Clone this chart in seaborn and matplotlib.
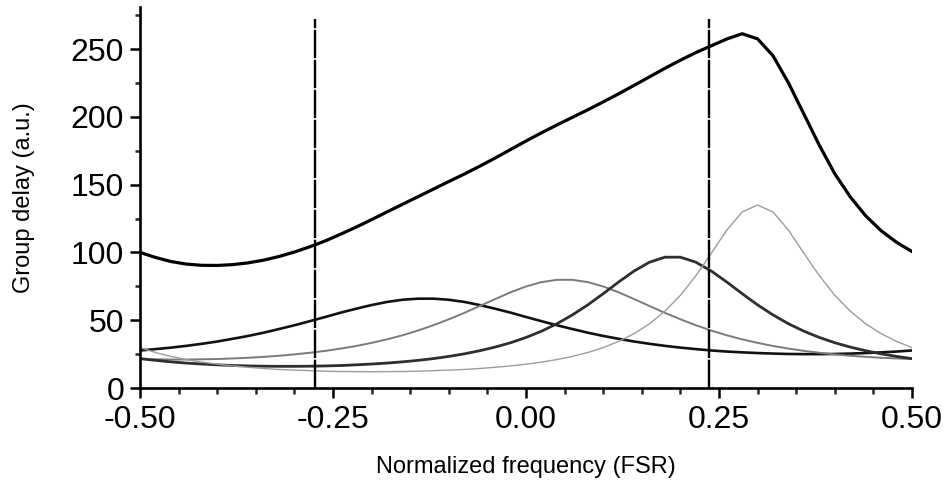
import numpy as np
import pandas as pd
import matplotlib
matplotlib.use("Agg")
import matplotlib.pyplot as plt
from matplotlib.ticker import MultipleLocator, FormatStrFormatter
import seaborn as sns

# normalized frequency grid (FSR), step 0.02
freq = [round(-0.5 + 0.02 * k, 2) for k in range(51)]

# group delay of the four individual resonances (a.u.)
ring_a = [27.7, 28.7, 29.8, 31.1, 32.6, 34.3, 36.3, 38.4, 40.8, 43.5,
          46.3, 49.3, 52.4, 55.6, 58.5, 61.2, 63.5, 65.1, 65.9, 65.9,
          65.1, 63.5, 61.2, 58.5, 55.6, 52.4, 49.3, 46.3, 43.5, 40.8,
          38.4, 36.3, 34.3, 32.6, 31.1, 29.8, 28.7, 27.7, 26.9, 26.3,
          25.8, 25.4, 25.1, 25.0, 25.0, 25.1, 25.4, 25.8, 26.3, 26.9, 27.7]
ring_b = [21.4, 21.2, 21.0, 21.0, 21.2, 21.4, 21.8, 22.3, 23.0, 23.8,
          24.8, 26.0, 27.4, 29.1, 31.0, 33.3, 35.9, 38.9, 42.4, 46.3,
          50.7, 55.4, 60.5, 65.6, 70.6, 74.9, 78.1, 79.8, 79.8, 78.1,
          74.9, 70.6, 65.6, 60.5, 55.4, 50.7, 46.3, 42.4, 38.9, 35.9,
          33.3, 31.0, 29.1, 27.4, 26.0, 24.8, 23.8, 23.0, 22.3, 21.8, 21.4]
ring_c = [21.7, 20.4, 19.3, 18.4, 17.7, 17.1, 16.6, 16.3, 16.1, 16.0,
          16.0, 16.1, 16.3, 16.6, 17.1, 17.7, 18.4, 19.3, 20.4, 21.7,
          23.3, 25.2, 27.5, 30.2, 33.4, 37.3, 41.9, 47.4, 53.9, 61.3,
          69.6, 78.2, 86.3, 92.8, 96.5, 96.5, 92.8, 86.3, 78.2, 69.6,
          61.3, 53.9, 47.4, 41.9, 37.3, 33.4, 30.2, 27.5, 25.2, 23.3, 21.7]
ring_d = [29.8, 26.2, 23.3, 21.0, 19.1, 17.6, 16.3, 15.3, 14.4, 13.7,
          13.2, 12.8, 12.4, 12.2, 12.1, 12.0, 12.1, 12.2, 12.4, 12.8,
          13.2, 13.7, 14.4, 15.3, 16.3, 17.6, 19.1, 21.0, 23.3, 26.2,
          29.8, 34.4, 40.1, 47.4, 56.7, 68.4, 82.8, 99.4, 116.4, 129.8,
          135.0, 129.8, 116.4, 99.4, 82.8, 68.4, 56.7, 47.4, 40.1, 34.4, 29.8]
# total group delay of the cascade
total = [100.0, 96.3, 93.3, 91.4, 90.5, 90.4, 91.0, 92.3, 94.3, 97.0,
         100.3, 104.2, 108.5, 113.5, 118.7, 124.2, 129.9, 135.5, 141.1, 146.7,
         152.3, 157.8, 163.6, 169.6, 175.9, 182.2, 188.2, 194.0, 199.6, 205.2,
         211.0, 217.0, 223.2, 229.5, 235.8, 241.8, 247.4, 252.4, 257.4, 261.3,
         257.5, 245.0, 225.0, 202.0, 179.0, 158.0, 141.0, 127.0, 116.0, 107.5, 100.6]

# passband edges
edges = [-0.273, 0.237]
edge_top = 272

curves = {"ring_a": ring_a, "ring_b": ring_b, "ring_c": ring_c,
          "ring_d": ring_d, "total": total}
df = pd.concat(
    [pd.DataFrame({"freq": freq, "delay": v, "curve": name}) for name, v in curves.items()],
    ignore_index=True,
)

palette = {"ring_a": "#111111", "ring_b": "#7a7a7a", "ring_c": "#2e2e2e",
           "ring_d": "#9c9c9c", "total": "#000000"}
widths = {"ring_a": 1.9, "ring_b": 1.4, "ring_c": 2.0, "ring_d": 1.0, "total": 2.3}

sns.set_style("ticks")
plt.rcParams["font.family"] = ["Liberation Sans", "DejaVu Sans"]
plt.rcParams["axes.unicode_minus"] = False

fig = plt.figure(figsize=(9.5, 4.84), dpi=100)
ax = fig.add_axes([0.1474, 0.1983, 0.8126, 0.7872])

sns.lineplot(data=df, x="freq", y="delay", hue="curve", size="curve",
             palette=palette, sizes=widths, estimator=None, sort=False,
             legend=False, ax=ax)

ax.vlines(edges, 0, edge_top, colors="black", linewidth=1.7,
          linestyles=(0, (12, 0.7)), zorder=3)

ax.set_xlim(-0.5, 0.5)
ax.set_ylim(0, 281)
ax.xaxis.set_major_locator(MultipleLocator(0.25))
ax.xaxis.set_minor_locator(MultipleLocator(0.05))
ax.xaxis.set_major_formatter(FormatStrFormatter("%.2f"))
ax.yaxis.set_major_locator(MultipleLocator(50))
ax.yaxis.set_minor_locator(MultipleLocator(25))

for side in ["top", "right"]:
    ax.spines[side].set_visible(False)
for side in ["left", "bottom"]:
    ax.spines[side].set_linewidth(1.9)
    ax.spines[side].set_color("black")

ax.tick_params(axis="both", which="major", direction="out", width=1.8,
               labelsize=23, colors="black")
ax.tick_params(axis="x", which="major", length=7, pad=5)
ax.tick_params(axis="y", which="major", length=7.5, pad=4)
ax.tick_params(axis="x", which="minor", direction="out", length=4.5, width=1.8)
ax.tick_params(axis="y", which="minor", direction="out", length=3.5, width=1.8)

ax.set_xlabel("Normalized frequency (FSR)", fontsize=17, labelpad=15, color="black")
ax.set_ylabel("Group delay (a.u.)", fontsize=17, labelpad=26, color="black")

fig.savefig("out.png", dpi=100)
